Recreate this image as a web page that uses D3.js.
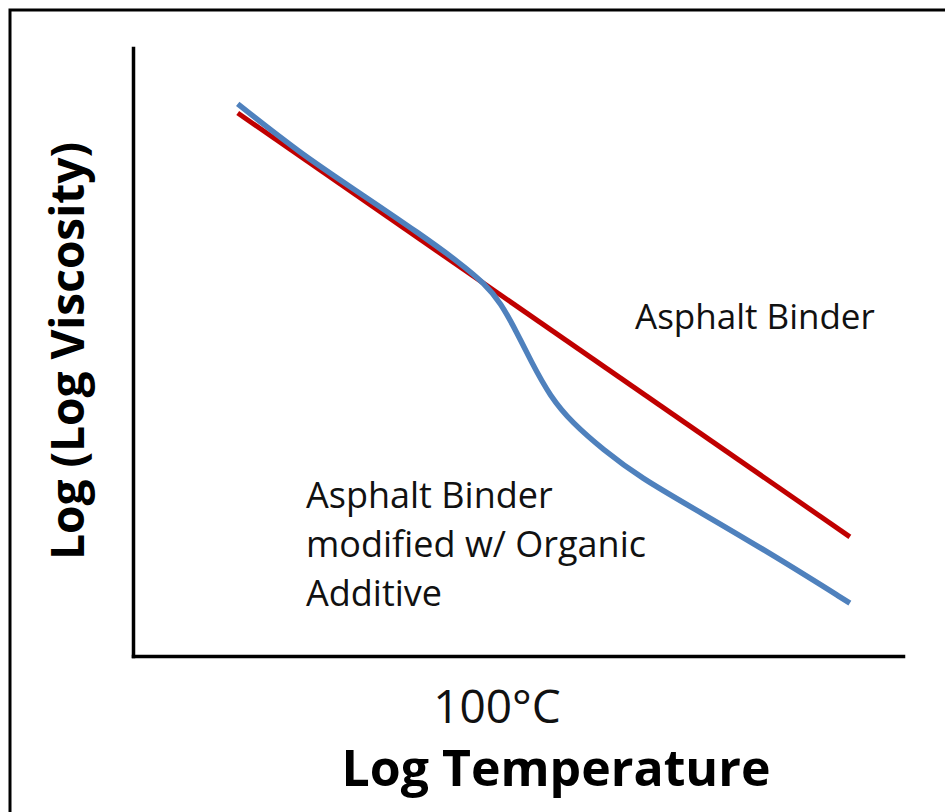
<!DOCTYPE html>
<html><head><meta charset="utf-8">
<script src="https://cdn.jsdelivr.net/npm/d3@7"></script>
<style>body{margin:0;background:#fff}svg{display:block}</style>
</head><body>
<script>
// Arbitrary log-temperature / log(log viscosity) units
const asphaltX = [1.36, 9.31];
const asphaltY = [8.93, 1.96];
const modifiedX = [1.36, 2.17, 2.95, 3.73, 4.25, 4.57, 4.77, 4.99, 5.16, 5.42, 5.71, 6.10, 6.58, 7.36, 8.34, 9.31];
const modifiedY = [9.08, 8.27, 7.61, 6.94, 6.46, 6.12, 5.82, 5.31, 4.87, 4.26, 3.83, 3.40, 2.94, 2.37, 1.64, 0.87];
const xTickLabel = "100°C";
const xTitle = "Log Temperature";
const yTitle = "Log (Log Viscosity)";
const labelAsphalt = ["Asphalt Binder"];
const labelModified = ["Asphalt Binder", "modified w/ Organic", "Additive"];

const W = 945, H = 812;
const svg = d3.select("body").append("svg").attr("width", W).attr("height", H);
svg.append("rect").attr("x", 10).attr("y", 10).attr("width", 960).attr("height", 840)
  .attr("fill", "#fff").attr("stroke", "#000").attr("stroke-width", 3);

const x = d3.scaleLinear().domain([0, 10]).range([133, 903]);
const y = d3.scaleLinear().domain([0, 10]).range([656, 48]);

// axes (no ticks)
const xAxis = d3.axisBottom(x).tickValues([]).tickSizeOuter(0);
const yAxis = d3.axisLeft(y).tickValues([]).tickSizeOuter(0);
svg.append("g").attr("transform", `translate(0,${y(0)})`).call(xAxis)
  .select(".domain").attr("stroke", "#000").attr("stroke-width", 3.5);
svg.append("g").attr("transform", `translate(${x(0)},0)`).call(yAxis)
  .select(".domain").attr("stroke", "#000").attr("stroke-width", 3.5);
svg.selectAll(".domain").attr("stroke-linecap", "square");

const line = d3.line().x(d => x(d[0])).y(d => y(d[1])).curve(d3.curveBasis);

svg.append("path").datum(asphaltX.map((v, i) => [v, asphaltY[i]]))
  .attr("d", d3.line().x(d => x(d[0])).y(d => y(d[1])))
  .attr("fill", "none").attr("stroke", "#C00000").attr("stroke-width", 5);
svg.append("path").datum(modifiedX.map((v, i) => [v, modifiedY[i]]))
  .attr("d", line)
  .attr("fill", "none").attr("stroke", "#4F81BD").attr("stroke-width", 5.5);

const font = "'Open Sans', Lato, sans-serif";
svg.append("text").attr("x", 635).attr("y", 329).text(labelAsphalt[0])
  .attr("font-family", font).attr("font-size", 35).attr("fill", "#111");
svg.append("g").selectAll("text").data(labelModified).join("text")
  .attr("x", 306).attr("y", (d, i) => 508 + i * 49).text(d => d)
  .attr("font-family", font).attr("font-size", 36).attr("fill", "#111");

svg.append("text").attr("x", 497).attr("y", 723).attr("text-anchor", "middle")
  .text(xTickLabel).attr("font-family", font).attr("font-size", 46).attr("fill", "#111");
svg.append("text").attr("x", 556).attr("y", 786).attr("text-anchor", "middle")
  .text(xTitle).attr("font-family", font).attr("font-size", 50).attr("font-weight", "bold").attr("fill", "#000");
svg.append("text").attr("transform", "translate(84,351) rotate(-90)").attr("text-anchor", "middle")
  .text(yTitle).attr("font-family", font).attr("font-size", 46).attr("font-weight", "bold").attr("fill", "#000");
</script>
</body></html>
